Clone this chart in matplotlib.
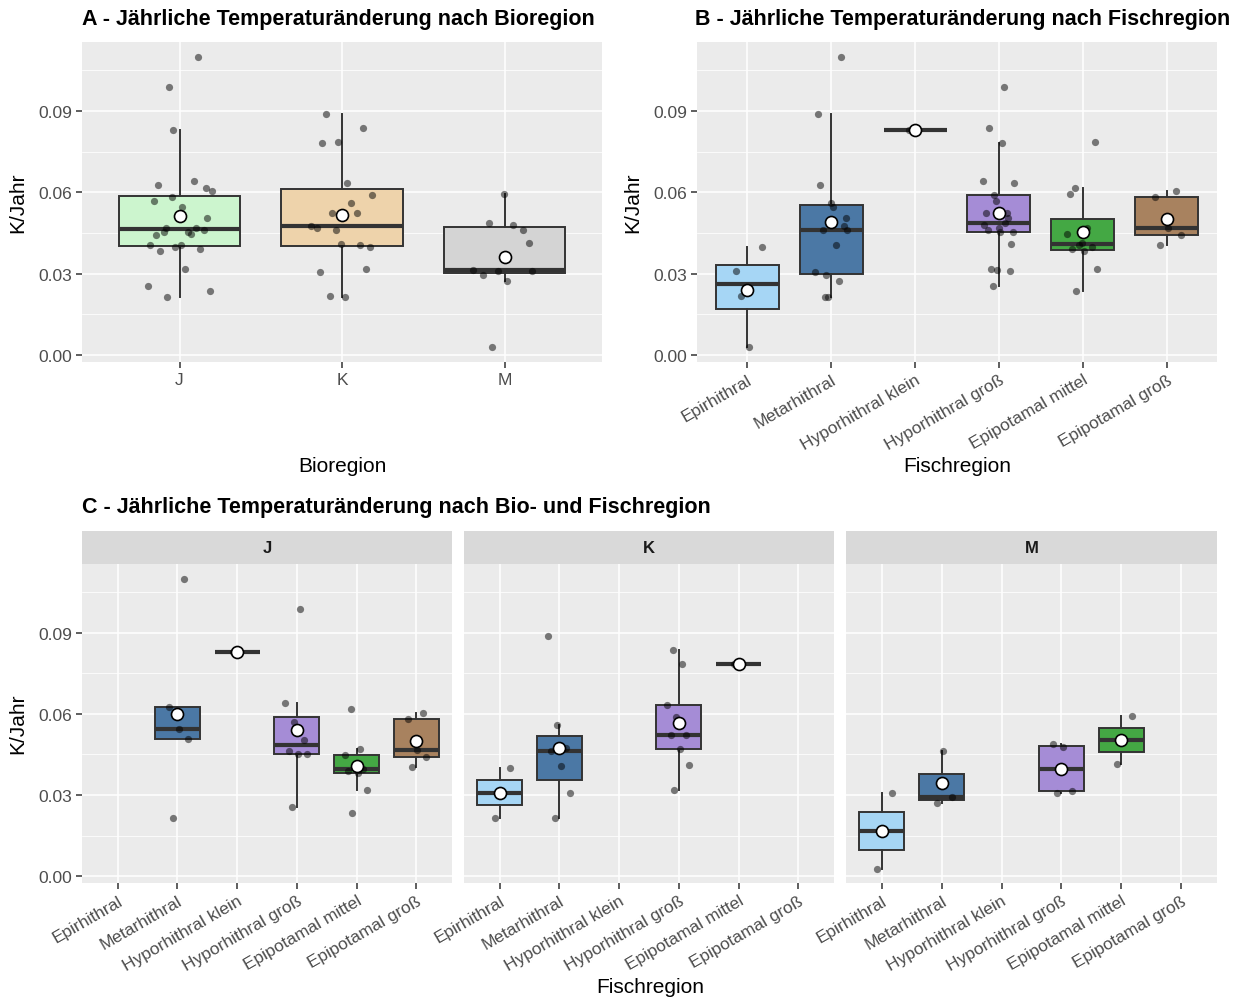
import numpy as np
import matplotlib.pyplot as plt
from matplotlib.ticker import FormatStrFormatter, MultipleLocator

plt.rcParams['font.family'] = ['Liberation Sans', 'DejaVu Sans']

# categories
bio_regions = ['J', 'K', 'M']
fish_regions = ['Epirhithral', 'Metarhithral', 'Hyporhithral klein',
                'Hyporhithral groß', 'Epipotamal mittel', 'Epipotamal groß']

# K/Jahr per site, one list per fish region (empty = no site there)
j_values = [
    [],
    [0.0215, 0.0507, 0.0546, 0.0626, 0.1101],
    [0.0830],
    [0.0256, 0.0453, 0.0453, 0.0463, 0.0504, 0.0570, 0.0642, 0.0989],
    [0.0235, 0.0319, 0.0383, 0.0390, 0.0398, 0.0405, 0.0447, 0.0469, 0.0617],
    [0.0405, 0.0441, 0.0467, 0.0583, 0.0604],
]
k_values = [
    [0.0216, 0.0400],
    [0.0214, 0.0307, 0.0406, 0.0463, 0.0475, 0.0560, 0.0890],
    [],
    [0.0317, 0.0411, 0.0470, 0.0523, 0.0523, 0.0590, 0.0633, 0.0783, 0.0837],
    [0.0784],
    [],
]
m_values = [
    [0.0028, 0.0309],
    [0.0272, 0.0294, 0.0463],
    [],
    [0.0309, 0.0315, 0.0479, 0.0488],
    [0.0415, 0.0593],
    [],
]
values_by_bio = [j_values, k_values, m_values]

bio_colors = ['#ccf5ce', '#eed3ab', '#d4d4d4']
fish_colors = ['#a6d6f5', '#4b78a5', '#2e5a87', '#a58cd6', '#44a844', '#a8825f']

W, H = 1240, 1003
fig = plt.figure(figsize=(W / 100, H / 100), dpi=100)


def add_ax(l, t, r, b):
    return fig.add_axes([l / W, 1 - b / H, (r - l) / W, (b - t) / H])


all_vals = np.concatenate([v for grp in values_by_bio for v in grp if len(v)])
pad = 0.05 * (all_vals.max() - all_vals.min())
ylim = (all_vals.min() - pad, all_vals.max() + pad)


def style(ax, n, show_y=True):
    ax.set_facecolor('#EBEBEB')
    for s in ax.spines.values():
        s.set_visible(False)
    ax.set_xlim(0.4, n + 0.6)
    ax.set_ylim(*ylim)
    ax.yaxis.set_major_locator(MultipleLocator(0.03))
    ax.yaxis.set_minor_locator(MultipleLocator(0.015))
    ax.yaxis.set_major_formatter(FormatStrFormatter('%.2f'))
    ax.grid(True, which='major', color='white', linewidth=1.1)
    ax.grid(True, which='minor', axis='y', color='white', linewidth=0.55)
    ax.set_axisbelow(True)
    ax.tick_params(which='major', color='#333333', labelcolor='#4D4D4D',
                   length=4, width=1.1, labelsize=12.5, pad=3)
    ax.tick_params(which='minor', length=0)
    if not show_y:
        ax.tick_params(axis='y', which='both', length=0, labelleft=False)


def draw_group(ax, pos, vals, color):
    if len(vals) == 0:
        return
    ax.boxplot([vals], positions=[pos], widths=0.75, whis=1.5,
               showfliers=False, showcaps=False, patch_artist=True,
               boxprops=dict(facecolor=color, edgecolor='#333333', linewidth=1.4),
               medianprops=dict(color='#333333', linewidth=3),
               whiskerprops=dict(color='#333333', linewidth=1.4),
               manage_ticks=False, zorder=2)
    # fixed jitter pattern
    offs = [0.2 * (2 * ((i * 0.618034 + 0.31) % 1) - 1) for i in range(len(vals))]
    ax.scatter(pos + np.array(offs), vals, s=27, color='black', alpha=0.5,
               linewidths=0, zorder=3)
    ax.scatter([pos], [np.mean(vals)], s=75, facecolor='white',
               edgecolor='black', linewidths=1.2, zorder=4)


# A - by bioregion
axA = add_ax(82, 43, 602, 363)
style(axA, 3)
for i, grp in enumerate(values_by_bio):
    pooled = [v for lst in grp for v in lst]
    draw_group(axA, i + 1, pooled, bio_colors[i])
axA.set_xticks(range(1, 4))
axA.set_xticklabels(bio_regions)

# B - by fish region
axB = add_ax(697, 43, 1217, 363)
style(axB, 6)
for k in range(len(fish_regions)):
    pooled = [v for grp in values_by_bio for v in grp[k]]
    draw_group(axB, k + 1, pooled, fish_colors[k])
axB.set_xticks(range(1, 7))
axB.set_xticklabels(fish_regions, rotation=30, ha='right', rotation_mode='anchor')

# C - facets by bioregion
facet_x = [(82, 452), (464, 834), (846, 1217)]
for i, (l, r) in enumerate(facet_x):
    ax = add_ax(l, 565, r, 884)
    style(ax, 6, show_y=(i == 0))
    for k in range(len(fish_regions)):
        draw_group(ax, k + 1, values_by_bio[i][k], fish_colors[k])
    ax.set_xticks(range(1, 7))
    ax.set_xticklabels(fish_regions, rotation=30, ha='right', rotation_mode='anchor')
    strip = add_ax(l, 532, r, 565)
    strip.set_facecolor('#D9D9D9')
    strip.set_xticks([])
    strip.set_yticks([])
    for s in strip.spines.values():
        s.set_visible(False)
    strip.text(0.5, 0.5, bio_regions[i], ha='center', va='center',
               fontsize=12, fontweight='bold', color='#1A1A1A')

# titles and axis labels
tkw = dict(fontsize=15.5, fontweight='bold', color='black', va='center', ha='left')
fig.text(82 / W, 1 - 20 / H, 'A - Jährliche Temperaturänderung nach Bioregion', **tkw)
fig.text(695 / W, 1 - 20 / H, 'B - Jährliche Temperaturänderung nach Fischregion', **tkw)
fig.text(82 / W, 1 - 508 / H, 'C - Jährliche Temperaturänderung nach Bio- und Fischregion', **tkw)

lkw = dict(fontsize=15, color='black', ha='center', va='center')
fig.text(342 / W, 1 - 467 / H, 'Bioregion', **lkw)
fig.text(957 / W, 1 - 467 / H, 'Fischregion', **lkw)
fig.text(650 / W, 1 - 988 / H, 'Fischregion', **lkw)
fig.text(18 / W, 1 - 203 / H, 'K/Jahr', rotation=90, **lkw)
fig.text(633 / W, 1 - 203 / H, 'K/Jahr', rotation=90, **lkw)
fig.text(18 / W, 1 - 724 / H, 'K/Jahr', rotation=90, **lkw)

plt.savefig('out.png', dpi=100)
